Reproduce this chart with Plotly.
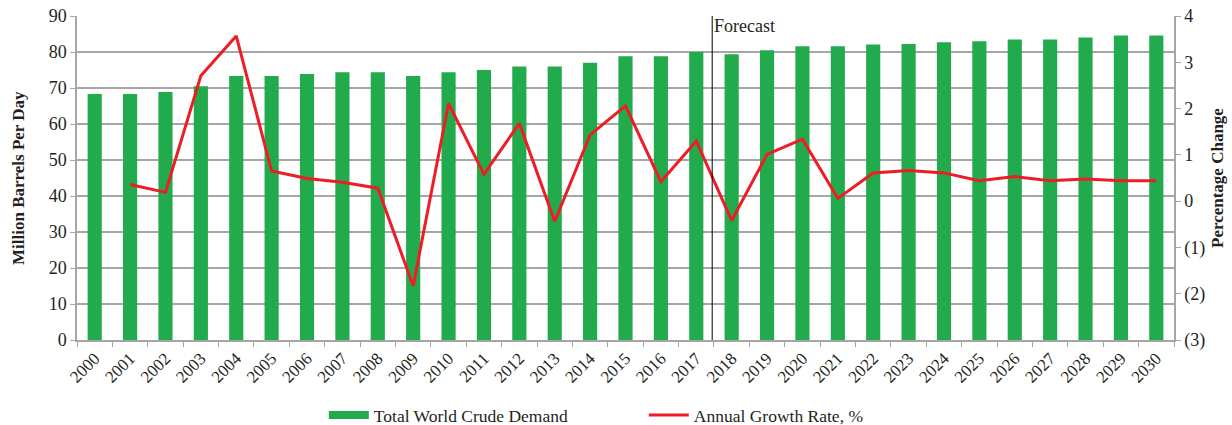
import plotly.graph_objects as go

years = [str(y) for y in range(2000, 2031)]
demand = [68.3, 68.3, 68.9, 70.5, 73.3, 73.3, 73.9, 74.4, 74.4, 73.3,
          74.4, 75.0, 76.0, 76.0, 77.0, 78.8, 78.8, 80.0, 79.4, 80.5,
          81.6, 81.6, 82.1, 82.2, 82.7, 83.0, 83.5, 83.5, 84.0, 84.6, 84.6]
growth = [None, 0.36, 0.19, 2.71, 3.57, 0.65, 0.49, 0.41, 0.28, -1.83,
          2.11, 0.58, 1.68, -0.44, 1.43, 2.06, 0.42, 1.30, -0.42, 1.01,
          1.34, 0.06, 0.61, 0.66, 0.61, 0.44, 0.53, 0.44, 0.48, 0.44, 0.44]
right_tickvals = [-3, -2, -1, 0, 1, 2, 3, 4]
right_ticktext = ["(3)", "(2)", "(1)", "0", "1", "2", "3", "4"]
forecast_start = "2018"

GREEN = "#22ab4c"
RED = "#ee1c25"
GRID = "#a6a6a6"
FONT = "Liberation Serif"
TXT = "#231f20"

fig = go.Figure()
fig.add_trace(go.Bar(x=years, y=demand, marker=dict(color=GREEN, line=dict(width=0)),
                     name="Total World Crude Demand", showlegend=False))
# legend proxy for wide swatch
fig.add_trace(go.Scatter(x=[None], y=[None], mode="lines", line=dict(color=GREEN, width=8),
                         name="Total World Crude Demand"))
fig.add_trace(go.Scatter(x=years, y=growth, mode="lines", line=dict(color=RED, width=3),
                         name="Annual Growth Rate, %", yaxis="y2", connectgaps=False))

fx = years.index(forecast_start) - 0.55
fig.add_shape(type="line", xref="x", yref="paper", x0=fx, x1=fx, y0=0, y1=1,
              line=dict(color="black", width=1))
fig.add_annotation(xref="x", yref="paper", x=fx, y=1, text="Forecast", showarrow=False,
                   xanchor="left", yanchor="top", xshift=0, yshift=2,
                   font=dict(family=FONT, size=18, color=TXT))
# axis titles
fig.add_annotation(xref="paper", yref="paper", x=0, y=0.5, xshift=-59, text="<b>Million Barrels Per Day</b>",
                   textangle=-90, showarrow=False, xanchor="center", yanchor="middle",
                   font=dict(family=FONT, size=17, color=TXT))
fig.add_annotation(xref="paper", yref="paper", x=1, y=0.5, xshift=43, text="<b>Percentage Change</b>",
                   textangle=-90, showarrow=False, xanchor="center", yanchor="middle",
                   font=dict(family=FONT, size=17, color=TXT))

fig.update_layout(
    width=1232, height=425,
    margin=dict(l=77, r=58, t=16, b=85, autoexpand=False),
    plot_bgcolor="white", paper_bgcolor="white",
    font=dict(family=FONT, size=18, color=TXT),
    bargap=0.6,
    xaxis=dict(type="category", tickangle=-45, showgrid=False, showline=True,
               linecolor=GRID, linewidth=1.5, ticks="outside", tickson="boundaries",
               ticklen=5, tickcolor=GRID, tickfont=dict(size=17), automargin=False),
    yaxis=dict(range=[0, 90], dtick=10, showgrid=True, gridcolor=GRID, gridwidth=1.5,
               showline=True, linecolor=GRID, linewidth=1.5, ticks="outside", ticklen=5,
               tickcolor=GRID, zeroline=False, automargin=False, tickfont=dict(size=18)),
    yaxis2=dict(range=[-3, 4], overlaying="y", side="right", tickvals=right_tickvals,
                ticktext=right_ticktext, showgrid=False, showline=True, linecolor=GRID,
                linewidth=1.5, ticks="outside", ticklen=5, tickcolor=GRID, zeroline=False,
                automargin=False, tickfont=dict(size=18)),
    legend=dict(orientation="h", x=0.225, xanchor="left", y=-0.176, yanchor="top",
                font=dict(size=17.5), entrywidth=265, itemwidth=40, traceorder="normal"),
)

fig.write_html("out.html", post_script="document.body.style.margin='0';",
               config={"displayModeBar": False})
